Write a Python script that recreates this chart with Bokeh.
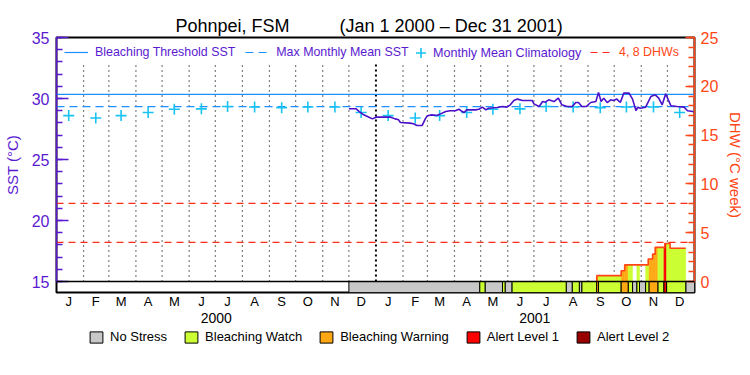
import numpy as np
import pandas as pd
from bokeh.plotting import figure
from bokeh.layouts import column
from bokeh.models import (Range1d, LinearAxis, FixedTicker, Legend, LegendItem, Span,
                          ColumnDataSource, Title)
from bokeh.embed import file_html
from bokeh.resources import INLINE

# ---------------- data ----------------
PERIOD_START = "2000-01-01"
PERIOD_END = "2002-01-01"
YEARS = [2000, 2001]
MONTH_LETTERS = ["J", "F", "M", "A", "M", "J", "J", "A", "S", "O", "N", "D"]

# monthly mean climatology (deg C), Jan..Dec
climatology = [28.60, 28.40, 28.60, 28.85, 29.12, 29.15, 29.34, 29.30, 29.25, 29.30, 29.30, 28.85]

sst_dates = [
    "2000-12-01", "2000-12-09", "2000-12-13", "2000-12-18", "2000-12-24", "2000-12-28", "2001-01-01", "2001-01-08", "2001-01-18", "2001-01-23",
    "2001-01-27", "2001-01-29", "2001-02-09", "2001-02-13", "2001-02-17", "2001-02-23", "2001-02-27", "2001-03-01", "2001-03-06", "2001-03-12",
    "2001-03-16", "2001-03-22", "2001-03-27", "2001-04-02", "2001-04-06", "2001-04-10", "2001-04-12", "2001-04-15", "2001-04-25", "2001-04-29",
    "2001-05-03", "2001-05-07", "2001-05-10", "2001-05-20", "2001-05-26", "2001-05-31", "2001-06-04", "2001-06-08", "2001-06-12", "2001-06-18",
    "2001-06-29", "2001-07-01", "2001-07-07", "2001-07-11", "2001-07-14", "2001-07-18", "2001-07-24", "2001-07-29", "2001-08-02", "2001-08-08",
    "2001-08-14", "2001-08-18", "2001-08-21", "2001-08-25", "2001-08-30", "2001-09-04", "2001-09-10", "2001-09-13", "2001-09-16", "2001-09-19",
    "2001-09-23", "2001-09-27", "2001-09-30", "2001-10-04", "2001-10-08", "2001-10-12", "2001-10-18", "2001-10-22", "2001-10-26", "2001-10-28",
    "2001-10-31", "2001-11-06", "2001-11-12", "2001-11-17", "2001-11-21", "2001-11-25", "2001-11-29", "2001-12-02", "2001-12-05", "2001-12-12",
    "2001-12-20", "2001-12-24", "2001-12-30", "2001-12-31",
]
sst_values = [
    29.16, 29.16, 28.93, 28.66, 28.47, 28.33, 28.47, 28.47, 28.47, 28.33,
    28.25, 28.03, 27.98, 27.93, 27.79, 27.79, 28.39, 28.58, 28.66, 28.60,
    28.74, 28.93, 29.00, 29.00, 29.12, 28.93, 28.85, 29.07, 29.07, 29.12,
    29.29, 29.07, 29.20, 29.26, 29.34, 29.29, 29.48, 29.84, 29.95, 29.84,
    29.84, 29.56, 29.34, 29.75, 29.70, 29.89, 29.75, 30.03, 29.48, 29.34,
    29.34, 29.67, 29.67, 29.34, 29.34, 29.67, 29.75, 30.50, 29.75, 30.03,
    29.67, 29.89, 29.84, 29.95, 29.67, 30.44, 30.44, 29.95, 29.00, 29.29,
    29.20, 29.29, 30.16, 30.30, 30.03, 29.48, 30.39, 29.89, 29.40, 29.34,
    29.29, 29.00, 28.93, 28.90,
]

# bleaching alert status: segment start dates and level (0 no stress .. 4 alert level 2)
status_starts = [
    "2000-12-01", "2001-04-30", "2001-05-06", "2001-05-26", "2001-05-29", "2001-06-06",
    "2001-08-07", "2001-08-14", "2001-08-22", "2001-08-25", "2001-09-11", "2001-09-13",
    "2001-10-09", "2001-10-17", "2001-10-22", "2001-10-27", "2001-10-30", "2001-11-06",
    "2001-11-10", "2001-11-20", "2001-11-27", "2001-11-30", "2001-12-22",
]
status_levels = [0, 1, 0, 1, 0, 1, 0, 1, 0, 1, 2, 1, 2, 1, 0, 1, 0, 1, 2, 1, 3, 1, 0]
status_names = ["No Stress", "Bleaching Watch", "Bleaching Warning", "Alert Level 1", "Alert Level 2"]

# degree heating weeks (step values starting at each date)
dhw_dates = ["2001-09-10", "2001-09-11", "2001-10-09", "2001-10-13", "2001-11-09",
             "2001-11-14", "2001-11-17", "2001-11-28", "2001-12-04", "2001-12-22"]
dhw_values = [0.0, 0.6, 1.1, 1.7, 2.3, 2.8, 3.5, 3.9, 3.4, 3.4]
dhw_thresholds = [4, 8]

# ---------------- styles ----------------
FONT = "Liberation Sans"
PURPLE = "#5a1ad0"
SST_LINE = "#4b10c8"
BLUE = "#1e8fff"
CYAN = "#18c3f2"
ORANGE_RED = "#ff4616"
DHW_RED = "#ff2a1a"
STATUS_COLORS = ["#c8c8c8", "#ccff33", "#ffa814", "#ff0000", "#990000"]

t0 = pd.Timestamp(PERIOD_START)
def day(d):
    return (pd.Timestamp(d) - t0).days

total_days = day(PERIOD_END)

FRAME_W, FRAME_H, BAR_PX = 638, 255, 11
SST_LO, SST_HI, DHW_HI = 15, 35, 25
sst_start = SST_LO - BAR_PX * (SST_HI - SST_LO) / (FRAME_H - BAR_PX)
dhw_start = -BAR_PX * DHW_HI / (FRAME_H - BAR_PX)

p = figure(frame_width=FRAME_W, frame_height=FRAME_H, output_backend="svg", toolbar_location=None,
           x_range=Range1d(0, total_days), y_range=Range1d(sst_start, SST_HI),
           x_axis_location=None, min_border=0)
p.extra_y_ranges = {"dhw": Range1d(dhw_start, DHW_HI)}
p.grid.visible = False
p.outline_line_color = "black"
p.outline_line_width = 2
p.background_fill_color = "white"
p.border_fill_color = "white"

# outer spacer (figure title) + real title nearer the frame
p.title.text = "\u00a0"
p.title.text_font_size = "8px"
p.title.standoff = 0
main_title = Title(text="Pohnpei, FSM" + "\u00a0" * 10 + "(Jan 1 2000 \u2013 Dec 31 2001)",
                   align="left", offset=119, text_font=FONT, text_font_size="18px",
                   text_font_style="normal", text_color="black", standoff=4)
p.add_layout(main_title, "above")

# month boundary dotted lines
bounds = pd.date_range(pd.Timestamp(PERIOD_START) + pd.offsets.MonthBegin(1),
                       pd.Timestamp(PERIOD_END) - pd.offsets.MonthBegin(1), freq="MS")
mb = [(b - t0).days for b in bounds if not (b.month == 1)]
yb = [(b - t0).days for b in bounds if b.month == 1]
p.segment(x0=mb, x1=mb, y0=SST_LO, y1=32.8, line_color="black", line_dash="1 4", line_width=1.2)
p.segment(x0=yb, x1=yb, y0=SST_LO, y1=32.8, line_color="black", line_dash="2 3", line_width=2)

# reference lines
mmm = max(climatology)
threshold = mmm + 1.0
xs_full = [0, total_days]
r_thr = p.line(xs_full, [threshold, threshold], line_color=BLUE, line_width=1.2)
r_mmm = p.line(xs_full, [mmm, mmm], line_color=BLUE, line_width=1.2, line_dash="8 5")
r_dhw = p.multi_line([xs_full for _ in dhw_thresholds], [[v, v] for v in dhw_thresholds],
                     line_color=DHW_RED, line_width=1.2, line_dash="7 5", y_range_name="dhw")

# DHW fill coloured by status
seg_s = [day(d) for d in status_starts]
seg_e = seg_s[1:] + [total_days]
dd = [day(d) for d in dhw_dates]
de = dd[1:] + [dd[-1]]
fl, fr, ft, fc = [], [], [], []
for s, e, lv in zip(seg_s, seg_e, status_levels):
    if lv == 0:
        continue
    for a, b, v in zip(dd, de, dhw_values):
        lo, hi = max(s, a), min(e, b)
        if hi > lo and v > 0:
            fl.append(lo); fr.append(hi); ft.append(v); fc.append(STATUS_COLORS[lv])
p.quad(left=fl, right=fr, bottom=0, top=ft, fill_color=fc, line_color=fc, line_width=0.5,
       y_range_name="dhw")
p.step(x=dd, y=dhw_values, mode="after", line_color=ORANGE_RED, line_width=1.6, y_range_name="dhw")

# status bar
for lv in range(len(status_names)):
    L = [s for s, l in zip(seg_s, status_levels) if l == lv]
    R = [e for e, l in zip(seg_e, status_levels) if l == lv]
    src = ColumnDataSource(dict(left=L, right=R))
    p.quad(left="left", right="right", bottom=dhw_start, top=0, source=src,
           fill_color=STATUS_COLORS[lv], line_color="black", line_width=1, y_range_name="dhw")
p.add_layout(Span(location=0, dimension="width", line_color="black", line_width=1.5, y_range_name="dhw"))

# climatology crosses
clim_x, clim_y = [], []
for y in YEARS:
    for m in range(12):
        clim_x.append(day(pd.Timestamp(y, m + 1, 15)))
        clim_y.append(climatology[m])
r_clim = p.scatter(clim_x, clim_y, marker="cross", size=11, line_width=1.6, line_color=CYAN)

# SST line
p.line([day(d) for d in sst_dates], sst_values, line_color=SST_LINE, line_width=1.6)

# ---------------- axes ----------------
def style_y(ax, col):
    ax.axis_line_color = col
    ax.axis_line_width = 1.5
    ax.major_tick_line_color = col
    ax.minor_tick_line_color = col
    ax.major_tick_line_width = 1.5
    ax.minor_tick_line_width = 1.5
    ax.major_tick_in = 12
    ax.major_tick_out = 0
    ax.minor_tick_in = 6
    ax.minor_tick_out = 0
    ax.major_label_text_color = col
    ax.major_label_text_font = FONT
    ax.major_label_text_font_size = "16px"
    ax.major_label_standoff = 6
    ax.axis_label_text_color = col
    ax.axis_label_text_font = FONT
    ax.axis_label_text_font_size = "15px"
    ax.axis_label_text_font_style = "normal"
    ax.axis_label_standoff = 6

ya = p.yaxis[0]
ya.ticker = FixedTicker(ticks=list(range(SST_LO, SST_HI + 1, 5)), minor_ticks=list(range(SST_LO, SST_HI + 1)))
ya.bounds = (SST_LO, SST_HI)
ya.axis_label = "SST (\u00b0C)"
style_y(ya, PURPLE)
ya.major_label_standoff = 7
ya.axis_label_standoff = 8

ra = LinearAxis(y_range_name="dhw", axis_label="DHW (\u00b0C week)")
ra.ticker = FixedTicker(ticks=list(range(0, DHW_HI + 1, 5)), minor_ticks=list(range(0, DHW_HI + 1)))
ra.bounds = (0, DHW_HI)
style_y(ra, ORANGE_RED)
ra.major_tick_in = 9
p.add_layout(ra, "right")

month_ticks, month_labels = [], {}
for y in YEARS:
    for m in range(12):
        t = day(pd.Timestamp(y, m + 1, 15))
        month_ticks.append(t)
        month_labels[t] = MONTH_LETTERS[m]
xa = LinearAxis(ticker=FixedTicker(ticks=month_ticks, minor_ticks=[]), major_label_overrides=month_labels)
year_ticks, year_labels = [], {}
for y in YEARS:
    t = (day(pd.Timestamp(y, 1, 1)) + day(pd.Timestamp(y + 1, 1, 1))) // 2
    year_ticks.append(t)
    year_labels[t] = str(y)
xa2 = LinearAxis(ticker=FixedTicker(ticks=year_ticks, minor_ticks=[]), major_label_overrides=year_labels)
for ax, size, so in ((xa, "13px", 1), (xa2, "14px", 1)):
    ax.axis_line_color = None
    ax.major_tick_line_color = None
    ax.minor_tick_line_color = None
    ax.major_tick_out = 0
    ax.major_tick_in = 0
    ax.major_label_text_font = FONT
    ax.major_label_text_font_size = size
    ax.major_label_text_color = "black"
    ax.major_label_standoff = so
p.add_layout(xa, "below")
p.add_layout(xa2, "below")

# ---------------- legends ----------------
def style_leg(lg, col, size):
    lg.border_line_color = None
    lg.background_fill_alpha = 0
    lg.label_text_font = FONT
    lg.label_text_font_size = size
    lg.label_text_color = col
    lg.orientation = "horizontal"
    lg.margin = 0

leg1 = Legend(items=[LegendItem(label="Bleaching Threshold SST", renderers=[r_thr]),
                     LegendItem(label="Max Monthly Mean SST", renderers=[r_mmm])],
              location=(8, 233))
style_leg(leg1, PURPLE, "12.4px")
leg1.glyph_width = 24; leg1.glyph_height = 12; leg1.label_height = 12
leg1.label_standoff = 7; leg1.spacing = 10; leg1.padding = 6
p.add_layout(leg1)

leg1b = Legend(items=[LegendItem(label="Monthly Mean Climatology", renderers=[r_clim])],
               location=(352, 227))
style_leg(leg1b, PURPLE, "12.6px")
leg1b.glyph_width = 25; leg1b.glyph_height = 25; leg1b.label_height = 12
leg1b.label_standoff = 0; leg1b.padding = 6
p.add_layout(leg1b)

leg2 = Legend(items=[LegendItem(label="4, 8 DHWs", renderers=[r_dhw])], location=(534, 233))
style_leg(leg2, ORANGE_RED, "12.4px")
leg2.glyph_width = 24; leg2.glyph_height = 12; leg2.label_height = 12
leg2.label_standoff = 5; leg2.padding = 6
p.add_layout(leg2)

# status legend in a strip below the chart (placeholder glyphs lie outside its range)
p2 = figure(width=734, height=28, output_backend="svg", toolbar_location=None,
            x_range=Range1d(0, 1), y_range=Range1d(0, 1),
            x_axis_location=None, y_axis_location=None, min_border=0)
p2.grid.visible = False
p2.outline_line_color = None
leg_r = [p2.quad(left=[-3], right=[-2], bottom=[-3], top=[-2], fill_color=c, line_color="black",
                 line_width=1) for c in STATUS_COLORS]
leg3 = Legend(items=[LegendItem(label=n, renderers=[r]) for n, r in zip(status_names, leg_r)],
              location=(32, 9))
style_leg(leg3, "black", "13px")
leg3.glyph_width = 16; leg3.glyph_height = 14; leg3.label_height = 14
leg3.label_standoff = 6; leg3.spacing = 16; leg3.padding = 0
p2.add_layout(leg3)

layout = column(p, p2, spacing=0)
open("out.html", "w").write(file_html(layout, INLINE))
